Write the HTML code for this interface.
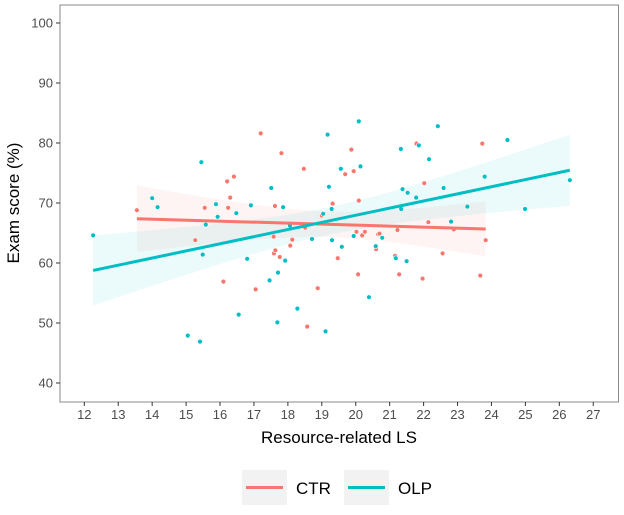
<!DOCTYPE html>
<html><head><meta charset="utf-8"><style>
body{margin:0;background:#fff;}
svg text{font-family:"Liberation Sans",Arial,sans-serif;}
</style></head><body>
<svg id="chart" width="624" height="510" viewBox="0 0 624 510" xmlns="http://www.w3.org/2000/svg">
<rect x="60" y="5" width="558.5" height="397" fill="#fff" stroke="#8a8a8a" stroke-width="1"/>
<g id="bands"></g><g id="pts"></g><g id="lines"></g><g id="axes"></g>
<text x="339" y="443" text-anchor="middle" font-size="17" fill="#000">Resource-related LS</text>
<text transform="translate(19,203) rotate(-90)" text-anchor="middle" font-size="17" fill="#000">Exam score (%)</text>
<g>
<g>
<rect x="242" y="470" width="45" height="35" fill="#f2f2f2"/>
<line x1="246" y1="487.5" x2="283" y2="487.5" stroke="#F8766D" stroke-width="3"/>
<text x="296" y="494" font-size="17" fill="#000">CTR</text></g>
<g>
<rect x="344" y="470" width="45" height="35" fill="#f2f2f2"/>
<line x1="348" y1="487.5" x2="385" y2="487.5" stroke="#00BFC4" stroke-width="3"/>
<text x="398" y="494" font-size="17" fill="#000">OLP</text></g>
</g>
</svg>
<script>
const ctrX=[13.55,15.27,15.55,16.1,16.21,16.24,16.3,16.41,17.05,17.2,17.58,17.59,17.63,17.62,17.76,17.81,18.07,18.13,18.47,18.51,18.57,18.88,19.0,19.32,19.47,19.69,19.87,19.94,20.02,20.07,20.09,20.19,20.27,20.6,20.66,20.7,21.16,21.23,21.28,21.79,21.97,22.02,22.14,22.56,22.89,23.67,23.73,23.83];
const ctrY=[68.8,63.8,69.2,56.9,73.6,69.2,70.9,74.4,55.6,81.6,64.4,61.6,62.1,69.5,61.0,78.3,62.9,63.9,75.7,65.9,49.4,55.8,67.9,69.9,60.8,74.8,78.9,75.3,65.2,58.1,70.4,64.6,65.2,62.3,64.8,64.9,61.2,65.5,58.1,79.9,57.4,73.3,66.8,61.6,65.6,57.9,79.9,63.8];
const olpX=[12.26,14.0,14.16,15.05,15.41,15.45,15.49,15.58,15.88,15.93,16.48,16.55,16.8,16.91,17.46,17.51,17.69,17.71,17.86,17.92,18.06,18.28,18.71,19.04,19.11,19.17,19.21,19.29,19.3,19.56,19.59,19.94,20.09,20.14,20.39,20.59,20.78,21.18,21.33,21.34,21.38,21.5,21.53,21.78,21.86,22.16,22.42,22.59,22.81,23.29,23.8,24.47,24.99,26.31];
const olpY=[64.6,70.8,69.3,47.9,46.9,76.8,61.4,66.4,69.8,67.7,68.3,51.4,60.7,69.6,57.1,72.5,50.1,58.4,69.3,60.4,66.2,52.4,64.0,68.2,48.6,81.4,72.7,69.0,63.8,75.7,62.7,64.5,83.6,76.1,54.3,62.8,64.2,60.8,79.0,69.0,72.3,60.3,71.7,70.9,79.6,77.3,82.8,72.5,66.9,69.4,74.4,80.5,69.0,73.8];
const xTicks=[12,13,14,15,16,17,18,19,20,21,22,23,24,25,26,27];
const yTicks=[40,50,60,70,80,90,100];
const NS='http://www.w3.org/2000/svg';
const X=v=>84.3+(v-12)*33.93;
const Y=v=>383-(v-40)*6;
function mk(t,a,p){const e=document.createElementNS(NS,t);for(const k in a)e.setAttribute(k,a[k]);document.getElementById(p).appendChild(e);return e;}
xTicks.forEach(t=>{
  const l=mk('line',{x1:X(t),x2:X(t),y1:402,y2:406,stroke:'#333','stroke-width':1},'axes');
  
  
  const tx=mk('text',{x:X(t),y:419,'text-anchor':'middle','font-size':13,fill:'#4d4d4d'},'axes');tx.textContent=t;
  
  
});
yTicks.forEach(t=>{
  const l=mk('line',{x1:56,x2:60,y1:Y(t),y2:Y(t),stroke:'#333','stroke-width':1},'axes');
  
  
  const tx=mk('text',{x:53,y:Y(t)+4.5,'text-anchor':'end','font-size':13,fill:'#4d4d4d'},'axes');tx.textContent=t;
  
  
});
function fit(xs,ys,color,name){
  const n=xs.length,mx=xs.reduce((a,b)=>a+b)/n,my=ys.reduce((a,b)=>a+b)/n;
  let sxx=0,sxy=0;for(let i=0;i<n;i++){sxx+=(xs[i]-mx)**2;sxy+=(xs[i]-mx)*(ys[i]-my);}
  const b=sxy/sxx,a=my-b*mx;let sse=0;for(let i=0;i<n;i++)sse+=(ys[i]-a-b*xs[i])**2;
  const s=Math.sqrt(sse/(n-2)),t=2.01;
  const lo=Math.min(...xs),hi=Math.max(...xs);const up=[],dn=[];
  for(let k=0;k<=40;k++){const x=lo+(hi-lo)*k/40,y=a+b*x,se=s*Math.sqrt(1/n+(x-mx)**2/sxx);
    up.push(X(x)+','+Y(y+t*se));dn.unshift(X(x)+','+Y(y-t*se));}
  const band=mk('polygon',{points:up.concat(dn).join(' '),fill:color,'fill-opacity':0.08},'bands');
  
  
  const ln=mk('line',{x1:X(lo),y1:Y(a+b*lo),x2:X(hi),y2:Y(a+b*hi),stroke:color,'stroke-width':3},'lines');
  
  
  xs.forEach((x,i)=>{const c=mk('circle',{cx:X(x),cy:Y(ys[i]),r:2.4,fill:color,stroke:'#fff','stroke-width':0.6},'pts');
    
    });
}
fit(ctrX,ctrY,'#F8766D','ctr');
fit(olpX,olpY,'#00BFC4','olp');
</script>
</body></html>
